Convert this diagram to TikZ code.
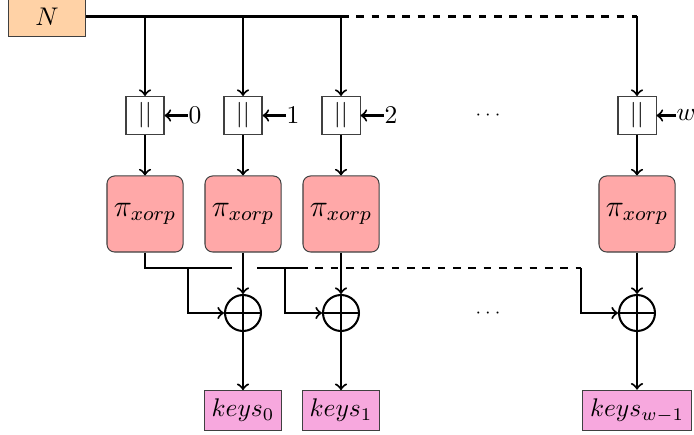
\documentclass[tikz,border=0pt]{standalone}
\usepackage{tikz}
\definecolor{nfill}{rgb}{1,0.825,0.65}
\definecolor{pfill}{rgb}{1,0.66,0.66}
\definecolor{kfill}{RGB}{247,168,222}
\begin{document}
\begin{tikzpicture}[x=0.392pt,y=-0.392pt,
  nbox/.style={draw=black!75,fill=nfill,minimum width=29.8pt,minimum height=15.3pt,inner sep=0pt},
  cbox/.style={draw=black!75,minimum width=14.9pt,minimum height=14.9pt,inner sep=0pt},
  pbox/.style={draw=black!75,fill=pfill,rounded corners=3pt,minimum width=29.8pt,minimum height=29.8pt,inner sep=0pt,font=\large},
  xorc/.style={circle,draw,thick,minimum size=14.1pt,inner sep=0pt,
    path picture={\draw[thick] (path picture bounding box.north) -- (path picture bounding box.south)
      (path picture bounding box.west) -- (path picture bounding box.east);}},
  kbox/.style={draw=black!75,fill=kfill,minimum height=14.5pt,inner xsep=2.8pt},
  lab/.style={inner sep=0pt,anchor=west},
  dotsl/.style={font=\scriptsize},
  wire/.style={thick},
  arr/.style={thick,->}]
\useasboundingbox (0,0) rectangle (694,435);

\node[nbox] (N) at (47,16.5) {$N$};

\foreach \i/\x in {0/145,1/243,2/341,3/637}{
  \coordinate (t\i) at (\x,16.5);
  \node[cbox] (c\i) at (\x,115.5) {$||$};
  \node[pbox] (p\i) at (\x,214) {$\pi_{xorp}$};
}
\foreach \i/\x in {1/243,2/341,3/637}{
  \node[xorc] (x\i) at (\x,313) {};
}
\node[lab] (l0) at (188,115.5) {$0$};
\node[lab] (l1) at (286,115.5) {$1$};
\node[lab] (l2) at (384,115.5) {$2$};
\node[lab] (l3) at (676,115.5) {$w$};

\node[dotsl] (d1) at (488,115) {$\cdots$};
\node[dotsl] (d2) at (488,313) {$\cdots$};

\node[kbox] (k0) at (243,410.5) {$keys_0$};
\node[kbox] (k1) at (341,410.5) {$keys_1$};
\node[kbox] (k3) at (637,410.5) {$keys_{w-1}$};

% top bus
\draw[wire] (N.east) -- (t2);
\draw[wire,dashed] (t2) -- (t3);
\foreach \i in {0,1,2,3}{
  \draw[arr] (t\i) -- (c\i.north);
  \draw[arr] (l\i.west) -- (c\i.east);
  \draw[arr] (c\i) -- (p\i);
}
\foreach \i in {1,2,3}{
  \draw[arr] (p\i) -- (x\i.north);
}
\draw[arr] (x1) -- (k0);
\draw[arr] (x2) -- (k1);
\draw[arr] (x3) -- (k3);

% bottom bus
\coordinate (b0) at (232,268);
\coordinate (b1) at (257,268);
\coordinate (b2) at (300,268);
\coordinate (b3) at (581,268);
\coordinate (j1) at (188,268);
\coordinate (j2) at (285,268);
\draw[wire] (p0.south) |- (b0);
\draw[wire] (b1) -- (b2);
\draw[wire,dashed] (b2) -- (b3);
\draw[arr] (j1) |- (x1.west);
\draw[arr] (j2) |- (x2.west);
\draw[arr] (b3) |- (x3.west);
\end{tikzpicture}
\end{document}
